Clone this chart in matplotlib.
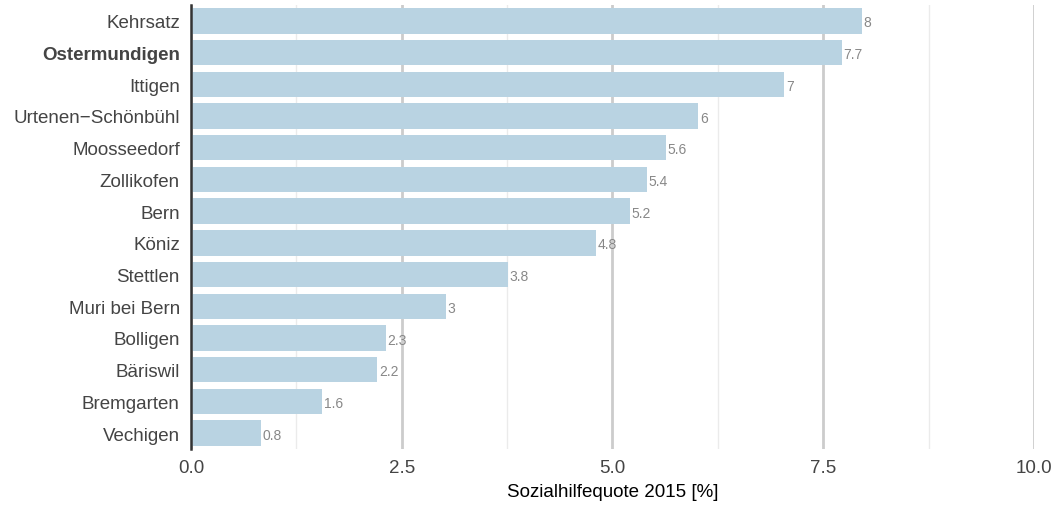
import numpy as np
import matplotlib
matplotlib.use("Agg")
import matplotlib.pyplot as plt
from matplotlib.ticker import MultipleLocator

plt.rcParams['font.family'] = ['Liberation Sans', 'DejaVu Sans']

gemeinden = ['Kehrsatz', 'Ostermundigen', 'Ittigen', 'Urtenen\u2212Schönbühl', 'Moosseedorf',
             'Zollikofen', 'Bern', 'Köniz', 'Stettlen', 'Muri bei Bern', 'Bolligen',
             'Bäriswil', 'Bremgarten', 'Vechigen']
quote = [7.96, 7.72, 7.04, 6.02, 5.63, 5.41, 5.21, 4.8, 3.76, 3.02, 2.31, 2.21, 1.56, 0.83]
highlight = 'Ostermundigen'

fig = plt.figure(figsize=(10.54, 5.06), dpi=100)
ax = fig.add_axes([0.1812, 0.1107, 0.7998, 0.8775])

y = np.arange(len(gemeinden))
ax.barh(y, quote, height=0.8, color='#b9d3e2', zorder=3)

for yi, v in zip(y, quote):
    ax.text(v + 0.02, yi + 0.05, '%g' % round(v, 1), va='center', ha='left',
            fontsize=10, color='#888888', zorder=4)

ax.set_xlim(0, 10)
ax.set_ylim(len(gemeinden) - 0.5, -0.5)
ax.set_yticks(y)
ax.set_yticklabels(gemeinden)
for lab in ax.get_yticklabels():
    if lab.get_text() == highlight:
        lab.set_fontweight('bold')

ax.xaxis.set_major_locator(MultipleLocator(2.5))
ax.xaxis.set_minor_locator(MultipleLocator(1.25))
ax.xaxis.set_major_formatter(matplotlib.ticker.FormatStrFormatter('%.1f'))
ax.grid(axis='x', which='major', color='#cccccc', lw=2, zorder=0)
ax.grid(axis='x', which='minor', color='#ebebeb', lw=1, zorder=0)
ax.tick_params(which='both', length=0)
ax.tick_params(axis='y', labelsize=13.5, labelcolor='#444444', pad=8)
ax.tick_params(axis='x', labelsize=13.5, labelcolor='#444444', pad=7)
ax.set_xlabel('Sozialhilfequote 2015 [%]', fontsize=13.5, color='black', labelpad=5)

for s in ['top', 'right', 'bottom']:
    ax.spines[s].set_visible(False)
ax.spines['left'].set_color('#333333')
ax.spines['left'].set_linewidth(1.8)
ax.spines['left'].set_zorder(5)

fig.savefig('out.png', dpi=100)
